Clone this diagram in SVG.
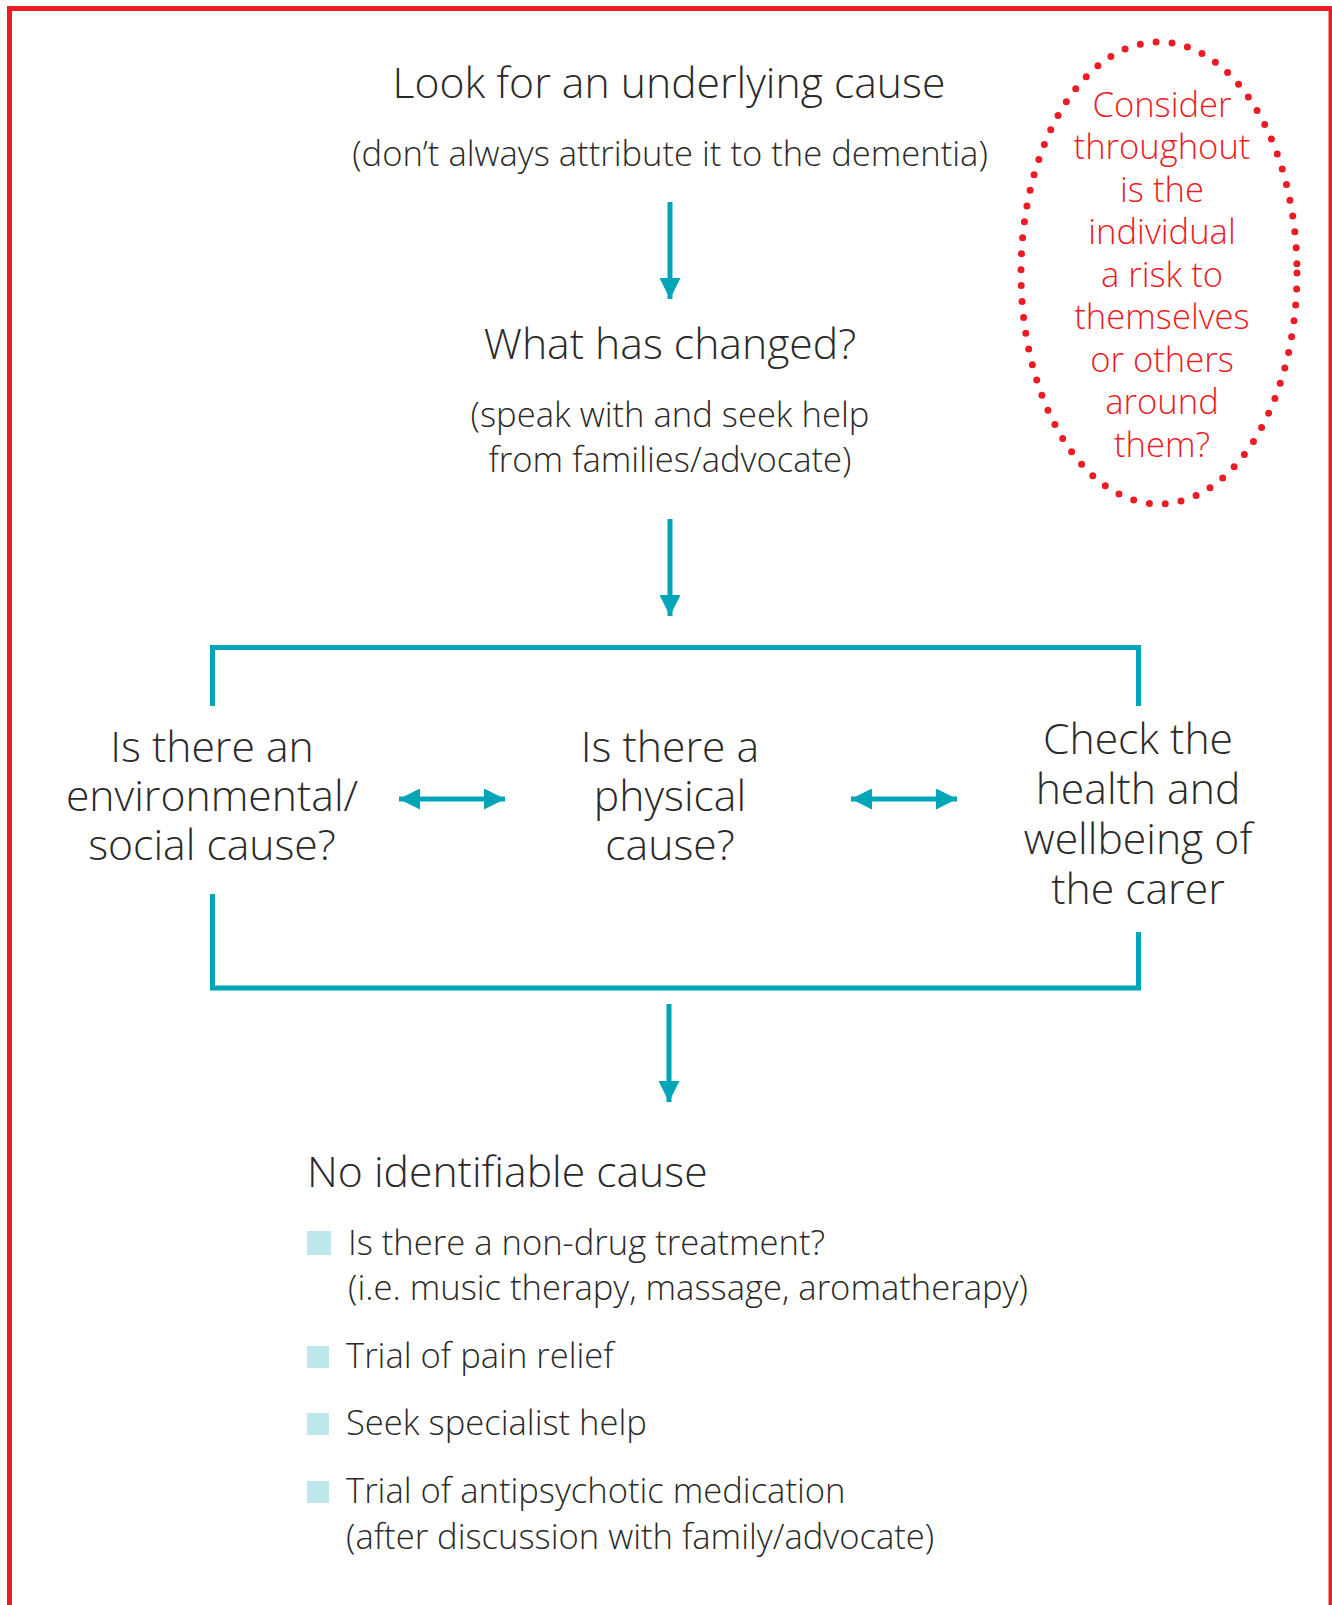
<svg xmlns="http://www.w3.org/2000/svg" width="1332" height="1605" viewBox="0 0 1332 1605">
<defs>
<style>
text{font-family:"Open Sans","Noto Sans","Liberation Sans",sans-serif;font-weight:300;fill:#2b2a29}
.big{font-size:42.7px}
.sub{font-size:34.6px}
.red{font-size:34.6px;fill:#ed1c24}
.item{font-size:34.6px}
.c{text-anchor:middle}
.ln{stroke:#00a5b8;stroke-width:5;fill:none}
.bul{fill:#bfe8ec}
</style>
<marker id="ah" viewBox="0 0 10 10" refX="10" refY="5" markerWidth="5.4" markerHeight="4.2" markerUnits="strokeWidth" orient="auto-start-reverse">
<path d="M0,0 L10,5 L0,10 z" fill="#00a5b8"/>
</marker>
</defs>
<rect x="9.5" y="8.5" width="1321.5" height="1610" fill="none" stroke="#ed1c24" stroke-width="5"/>

<g id="n-look">
<text class="big c" x="669" y="98">Look for an underlying cause</text>
<text class="sub c" x="670" y="166">(don’t always attribute it to the dementia)</text>
</g>
<g id="n-changed">
<text class="big c" x="670" y="359">What has changed?</text>
<text class="sub c" x="670" y="427">(speak with and seek help</text>
<text class="sub c" x="670" y="472">from families/advocate)</text>
</g>
<g id="n-risk">
<ellipse cx="1159" cy="273" rx="138" ry="231" fill="none" stroke="#ed1c24" stroke-width="7" stroke-linecap="round" stroke-dasharray="0 16"/>
<text class="red c" x="1162" y="117">Consider</text>
<text class="red c" x="1162" y="159">throughout</text>
<text class="red c" x="1162" y="202">is the</text>
<text class="red c" x="1162" y="244">individual</text>
<text class="red c" x="1162" y="287">a risk to</text>
<text class="red c" x="1162" y="329">themselves</text>
<text class="red c" x="1162" y="372">or others</text>
<text class="red c" x="1162" y="414">around</text>
<text class="red c" x="1162" y="457">them?</text>
</g>
<g id="n-env">
<text class="big c" x="212" y="762">Is there an</text>
<text class="big c" x="212" y="811">environmental/</text>
<text class="big c" x="212" y="860">social cause?</text>
</g>
<g id="n-phys">
<text class="big c" x="670" y="762">Is there a</text>
<text class="big c" x="670" y="811">physical</text>
<text class="big c" x="670" y="860">cause?</text>
</g>
<g id="n-carer">
<text class="big c" x="1138" y="754">Check the</text>
<text class="big c" x="1138" y="804">health and</text>
<text class="big c" x="1138" y="854">wellbeing of</text>
<text class="big c" x="1138" y="904">the carer</text>
</g>
<g id="n-none">
<text class="big" x="307" y="1187">No identifiable cause</text>
<rect class="bul" x="307" y="1231" width="24" height="24"/>
<text class="item" x="348" y="1255">Is there a non-drug treatment?</text>
<text class="item" x="348" y="1300">(i.e. music therapy, massage, aromatherapy)</text>
<rect class="bul" x="307" y="1346" width="22" height="22"/>
<text class="item" x="346" y="1368">Trial of pain relief</text>
<rect class="bul" x="307" y="1413" width="22" height="22"/>
<text class="item" x="346" y="1435">Seek specialist help</text>
<rect class="bul" x="307" y="1481" width="22" height="22"/>
<text class="item" x="346" y="1503">Trial of antipsychotic medication</text>
<text class="item" x="346" y="1549">(after discussion with family/advocate)</text>
</g>
<g id="connectors">
<path class="ln" d="M670,202 V299" marker-end="url(#ah)"/>
<path class="ln" d="M670,519 V616" marker-end="url(#ah)"/>
<path class="ln" d="M212.5,706 V647.5 H1138.5 V706"/>
<path class="ln" d="M212.5,894 V988 H1138.5 V932"/>
<path class="ln" d="M669,1004 V1102" marker-end="url(#ah)"/>
<path class="ln" d="M399,799 H505" marker-start="url(#ah)" marker-end="url(#ah)"/>
<path class="ln" d="M851,799 H957" marker-start="url(#ah)" marker-end="url(#ah)"/>
</g>
</svg>
